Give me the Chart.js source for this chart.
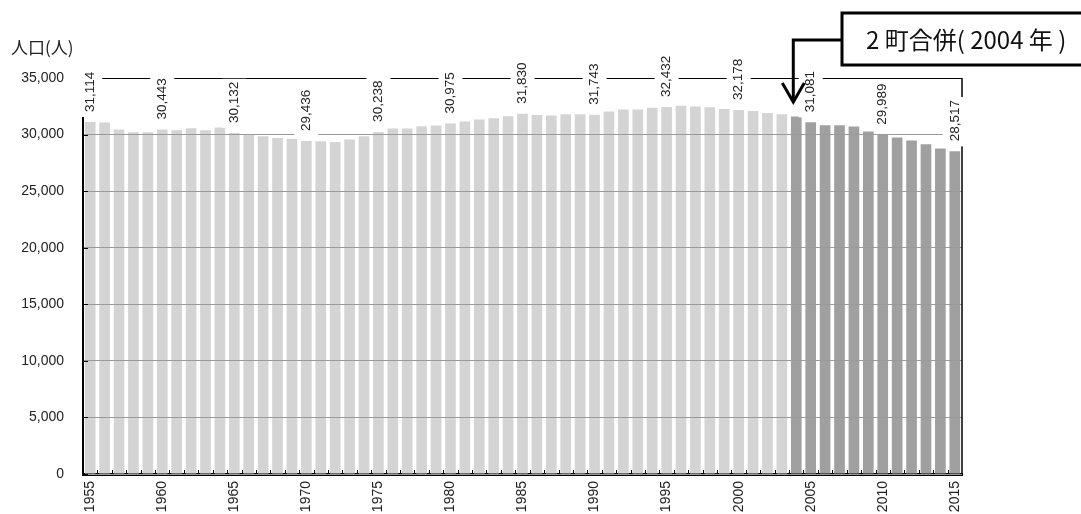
<!DOCTYPE html>
<html lang="ja">
<head>
  <meta charset="UTF-8" />
  <title>人口の推移</title>
  <script src="https://cdn.jsdelivr.net/npm/chart.js"></script>
  <style>
    body { margin: 0; background: #fff; }
  </style>
</head>
<body>
  <canvas id="popChart" width="1081" height="514"></canvas>

  <script>
    const years = [];
    for (let y = 1955; y <= 2015; y++) years.push(y);

    const population = [
      31114, 31060, 30440, 30210, 30210, 30443, 30380, 30560, 30380, 30620,
      30132, 29990, 29850, 29700, 29640, 29436, 29420, 29350, 29560, 29850,
      30238, 30530, 30530, 30736, 30795, 30975, 31150, 31326, 31444, 31620,
      31830, 31720, 31690, 31797, 31797, 31743, 32033, 32210, 32210, 32380,
      32432, 32550, 32475, 32416, 32269, 32178, 32092, 31915, 31797, 31591,
      31081, 30825, 30825, 30707, 30265, 29989, 29735, 29470, 29145, 28762,
      28517
    ];

    const yTicks = [0, 5000, 10000, 15000, 20000, 25000, 30000, 35000];
    const mergeYear = 2004;
    const mergeText = "2 町合併( 2004 年 )";
    const yTitle = "人口(人)";

    const barColors = years.map(y => y >= mergeYear ? "#a0a0a0" : "#d4d4d4");
    const fmt = v => v.toLocaleString("en-US");

    const overlay = {
      id: "overlay",
      afterDraw(chart) {
        const ctx = chart.ctx;
        const area = chart.chartArea;
        const xs = chart.scales.x;
        const ys = chart.scales.y;
        const meta = chart.getDatasetMeta(0);
        ctx.save();

        // frame: left axis and right edge
        ctx.strokeStyle = "#000";
        ctx.lineWidth = 2;
        ctx.beginPath();
        ctx.moveTo(area.left, area.top);
        ctx.lineTo(area.left, area.bottom + 1);
        ctx.stroke();
        ctx.lineWidth = 1.5;
        ctx.beginPath();
        ctx.moveTo(area.right, area.top);
        ctx.lineTo(area.right, area.bottom);
        ctx.stroke();

        // small inward ticks on x axis (between bars)
        ctx.lineWidth = 1;
        for (let i = 1; i < years.length; i++) {
          const x = Math.round((xs.getPixelForValue(i - 1) + xs.getPixelForValue(i)) / 2) + 0.5;
          ctx.beginPath();
          ctx.moveTo(x, area.bottom);
          ctx.lineTo(x, area.bottom - 4);
          ctx.stroke();
        }
        // small inward ticks on y axis
        yTicks.forEach(v => {
          const y = Math.round(ys.getPixelForValue(v)) + 0.5;
          ctx.beginPath();
          ctx.moveTo(area.left, y);
          ctx.lineTo(area.left + 5, y);
          ctx.stroke();
        });

        // value labels every 5 years
        ctx.font = "13.5px 'Liberation Sans', Arial, sans-serif";
        ctx.textBaseline = "middle";
        ctx.textAlign = "left";
        years.forEach((yr, i) => {
          if (yr % 5 !== 0) return;
          const bar = meta.data[i];
          const txt = fmt(population[i]);
          const w = ctx.measureText(txt).width;
          ctx.save();
          ctx.translate(bar.x, bar.y - 10);
          ctx.rotate(-Math.PI / 2);
          ctx.fillStyle = "#fff";
          ctx.fillRect(-5, -12, w + 8, 24);
          ctx.fillStyle = "#222";
          ctx.fillText(txt, 0, 0);
          ctx.restore();
        });

        // y axis title
        ctx.fillStyle = "#222";
        ctx.font = "17px 'Noto Sans CJK JP', sans-serif";
        ctx.textBaseline = "middle";
        ctx.fillText(yTitle, 11, 48);

        // merge annotation box
        ctx.lineWidth = 3;
        ctx.strokeStyle = "#000";
        ctx.fillStyle = "#fff";
        ctx.fillRect(842, 13, 260, 52);
        ctx.strokeRect(842, 13, 260, 52);
        ctx.fillStyle = "#111";
        ctx.font = "24px 'Noto Sans CJK JP', sans-serif";
        ctx.fillText(mergeText, 866, 40);

        // arrow to the 2004 bar
        const ax = xs.getPixelForValue(years.indexOf(mergeYear)) - 3;
        ctx.lineJoin = "miter";
        ctx.beginPath();
        ctx.moveTo(842, 40);
        ctx.lineTo(ax, 40);
        ctx.lineTo(ax, 101);
        ctx.stroke();
        ctx.beginPath();
        ctx.moveTo(ax - 11, 83);
        ctx.lineTo(ax, 102);
        ctx.lineTo(ax + 11, 83);
        ctx.stroke();

        ctx.restore();
      }
    };

    const ctx = document.getElementById("popChart").getContext("2d");
    const chart = new Chart(ctx, {
      type: "bar",
      data: {
        labels: years.map(String),
        datasets: [{
          data: population,
          backgroundColor: barColors,
          barPercentage: 0.74,
          categoryPercentage: 1.0
        }]
      },
      options: {
        responsive: false,
        animation: false,
        devicePixelRatio: 1,
        layout: { padding: { top: 78, right: 119, bottom: 0, left: 0 } },
        plugins: {
          legend: { display: false },
          tooltip: { enabled: false }
        },
        scales: {
          x: {
            grid: { display: false, drawTicks: false },
            border: { color: "#000", width: 3 },
            ticks: {
              autoSkip: false,
              minRotation: 90,
              maxRotation: 90,
              padding: 7,
              color: "#222",
              font: { family: "'Liberation Sans', Arial, sans-serif", size: 14 },
              callback: function (val, idx) {
                return years[idx] % 5 === 0 ? String(years[idx]) : "";
              }
            },
            afterFit: scale => { scale.height = 40; }
          },
          y: {
            min: 0,
            max: 35000,
            afterBuildTicks: scale => { scale.ticks = yTicks.map(v => ({ value: v })); },
            grid: {
              z: 1,
              drawTicks: false,
              lineWidth: 1,
              color: c => c.tick && c.tick.value === 35000 ? "#000" : "#9a9a9a"
            },
            border: { display: false },
            ticks: {
              padding: 19,
              color: "#222",
              font: { family: "'Liberation Sans', Arial, sans-serif", size: 14 },
              callback: v => fmt(v)
            },
            afterFit: scale => { scale.width = 83; }
          }
        }
      },
      plugins: [overlay]
    });
  </script>
</body>
</html>
